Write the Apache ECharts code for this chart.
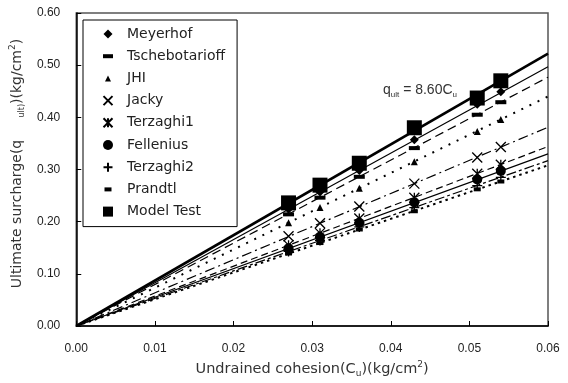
<!DOCTYPE html>
<html>
<head>
<meta charset="utf-8">
<script src="https://cdn.jsdelivr.net/npm/echarts@6/dist/echarts.min.js"></script>
<style>
  html, body { margin: 0; padding: 0; background: #fff; }
  #chart { width: 568px; height: 383px; }
</style>
</head>
<body>
<div id="chart"></div>
<script>
// undrained cohesion Cu (kg/cm2) of the test points
var cohesion = [0.027, 0.031, 0.036, 0.043, 0.051, 0.054];

// ultimate surcharge (kg/cm2)
var modelTest      = [0.236, 0.270, 0.312, 0.380, 0.437, 0.470];
var meyerhof       = [0.224, 0.257, 0.298, 0.357, 0.425, 0.449];
var tschebotarioff = [0.214, 0.246, 0.286, 0.341, 0.405, 0.429];
var jhi            = [0.198, 0.227, 0.264, 0.315, 0.373, 0.396];
var jacky          = [0.172, 0.197, 0.229, 0.273, 0.323, 0.343];
var terzaghi1      = [0.155, 0.178, 0.206, 0.246, 0.292, 0.309];
var fellenius      = [0.149, 0.171, 0.198, 0.237, 0.281, 0.297];
var terzaghi2      = [0.143, 0.164, 0.190, 0.227, 0.269, 0.285];
var prandtl        = [0.139, 0.159, 0.185, 0.220, 0.262, 0.277];

// straight lines through the origin, value at the right edge (Cu = 0.06)
var lineX = [0, 0.06];
var modelLine          = [0, 0.522];
var meyerhofLine       = [0, 0.497];
var tschebotarioffLine = [0, 0.477];
var jhiLine            = [0, 0.440];
var jackyLine          = [0, 0.381];
var terzaghi1Line      = [0, 0.344];
var felleniusLine      = [0, 0.330];
var terzaghi2Line      = [0, 0.317];
var prandtlLine        = [0, 0.308];

var xTicks = ['0.00', '0.01', '0.02', '0.03', '0.04', '0.05', '0.06'];
var yTicks = ['0.00', '0.10', '0.20', '0.30', '0.40', '0.50', '0.60'];

var chart = echarts.init(document.getElementById('chart'));

function pts(xs, ys) {
  var out = [];
  for (var i = 0; i < xs.length; i++) out.push([xs[i], ys[i]]);
  return out;
}

function fitLine(name, ys, width, dash) {
  return {
    name: name + ' line',
    type: 'line',
    data: pts(lineX, ys),
    showSymbol: false,
    silent: true,
    z: 2,
    lineStyle: { color: '#000', width: width, type: dash }
  };
}

function marks(name, ys, symbol, size, stroke) {
  var s = {
    name: name,
    type: 'scatter',
    data: pts(cohesion, ys),
    symbol: symbol,
    symbolSize: size,
    z: 5,
    itemStyle: { color: '#000', opacity: 1 }
  };
  if (stroke) {
    s.itemStyle = { color: 'rgba(0,0,0,0)', borderColor: '#000', borderWidth: 1.3, opacity: 1 };
  }
  return s;
}

var crossPath = 'path://M0,0L10,10M10,0L0,10';
var starPath = 'path://M0,0L10,10M10,0L0,10M5,0L5,10';
var plusPath = 'path://M5,0L5,10M0,5L10,5';

// legend icons, drawn inside a 16x10 box (the two moves set the box)
var box = 'path://M0,0M16,10';
var legendItems = [
  { name: 'Meyerhof',       icon: box + 'M8,0.5L12.5,5L8,9.5L3.5,5Z' },
  { name: 'Tschebotarioff', icon: box + 'M3,3h10v4h-10z' },
  { name: 'JHI',            icon: box + 'M8,2L11,8L5,8Z' },
  { name: 'Jacky',          icon: box + 'M3.5,0.5L12.5,9.5M12.5,0.5L3.5,9.5' },
  { name: 'Terzaghi1',      icon: box + 'M3.5,0.5L12.5,9.5M12.5,0.5L3.5,9.5M8,0.5L8,9.5' },
  { name: 'Fellenius',      icon: 'circle' },
  { name: 'Terzaghi2',      icon: box + 'M8,0.5L8,9.5M3.5,5L12.5,5' },
  { name: 'Prandtl',        icon: box + 'M4.5,3h7v4h-7z' },
  { name: 'Model Test',     icon: box + 'M3,0h10v10h-10z' }
];

chart.setOption({
  animation: false,
  backgroundColor: '#fff',
  grid: {
    left: 75, right: 20, top: 13, bottom: 54,
    show: true,
    borderColor: '#555',
    borderWidth: 1.5
  },
  legend: {
    data: legendItems,
    orient: 'vertical',
    left: 83,
    top: 20,
    padding: [7, 12, 8, 16],
    itemGap: 8.2,
    itemWidth: 16,
    itemHeight: 10,
    borderColor: '#000',
    borderWidth: 1,
    backgroundColor: '#fff',
    selectedMode: false,
    textStyle: {
      fontFamily: 'DejaVu Sans',
      fontSize: 14,
      lineHeight: 14,
      color: '#222',
      padding: [0, 0, 0, 6]
    }
  },
  xAxis: {
    type: 'value',
    min: 0,
    max: 0.06,
    interval: 0.01,
    nameLocation: 'middle',
    nameGap: 34,
    name: '{t|Undrained cohesion(C}{s|u}{t|)(kg/cm}{p|2}{t|)}',
    nameTextStyle: {
      rich: {
        t: { fontFamily: 'DejaVu Sans', fontSize: 14.5, color: '#333', lineHeight: 18 },
        s: { fontFamily: 'DejaVu Sans', fontSize: 9, color: '#333', lineHeight: 14, verticalAlign: 'bottom' },
        p: { fontFamily: 'DejaVu Sans', fontSize: 9, color: '#333', lineHeight: 18, verticalAlign: 'top' }
      }
    },
    axisLine: { lineStyle: { color: '#000', width: 1.5 } },
    axisTick: { inside: true, length: 5, lineStyle: { color: '#000' } },
    splitLine: { show: false },
    axisLabel: {
      margin: 17,
      fontFamily: 'Liberation Sans',
      fontSize: 12,
      color: '#222',
      formatter: function (v) { return xTicks[Math.round(v * 100)]; }
    }
  },
  yAxis: {
    type: 'value',
    min: 0,
    max: 0.6,
    interval: 0.1,
    nameLocation: 'middle',
    nameGap: 38,
    nameRotate: 90,
    name: '{t|Ultimate surcharge(q     }{s|ult)}{t|)(kg/cm}{p|2}{t|)}',
    nameTextStyle: {
      padding: [0, 0, 0, 12],
      rich: {
        t: { fontFamily: 'DejaVu Sans', fontSize: 14, color: '#333', lineHeight: 18 },
        s: { fontFamily: 'DejaVu Sans', fontSize: 8, color: '#333', lineHeight: 18, verticalAlign: 'bottom' },
        p: { fontFamily: 'DejaVu Sans', fontSize: 9, color: '#333', lineHeight: 18, verticalAlign: 'top' }
      }
    },
    axisLine: { show: true, lineStyle: { color: '#000', width: 1.5 } },
    axisTick: { show: true, inside: true, length: 5, lineStyle: { color: '#000' } },
    splitLine: { show: false },
    axisLabel: {
      margin: 16,
      fontFamily: 'Liberation Sans',
      fontSize: 12,
      color: '#222',
      formatter: function (v) { return yTicks[Math.round(v * 10)]; }
    }
  },
  graphic: [
    {
      type: 'text',
      left: 383,
      top: 83,
      style: {
        text: '{t|q}{s|ult}{t| = 8.60C}{s|u}',
        rich: {
          t: { fontFamily: 'Liberation Sans', fontSize: 14, fill: '#333', lineHeight: 17 },
          s: { fontFamily: 'Liberation Sans', fontSize: 8, fill: '#333', lineHeight: 12, verticalAlign: 'bottom' }
        }
      }
    }
  ],
  series: [
    fitLine('Model Test', modelLine, 2.6, 'solid'),
    fitLine('Meyerhof', meyerhofLine, 1.2, 'solid'),
    fitLine('Tschebotarioff', tschebotarioffLine, 1.2, [9, 5]),
    fitLine('JHI', jhiLine, 2, [2, 7]),
    fitLine('Jacky', jackyLine, 1.2, [10, 4, 2, 4]),
    fitLine('Terzaghi1', terzaghi1Line, 1.2, [7, 4]),
    fitLine('Fellenius', felleniusLine, 1.2, 'solid'),
    fitLine('Terzaghi2', terzaghi2Line, 1.2, [10, 3, 3, 3]),
    fitLine('Prandtl', prandtlLine, 2, [2.5, 4]),
    marks('Meyerhof', meyerhof, 'diamond', 9),
    marks('Tschebotarioff', tschebotarioff, 'rect', [11, 4]),
    marks('JHI', jhi, 'triangle', 7),
    marks('Jacky', jacky, crossPath, 10, true),
    marks('Terzaghi1', terzaghi1, starPath, 10, true),
    marks('Fellenius', fellenius, 'circle', 10),
    marks('Terzaghi2', terzaghi2, plusPath, 10, true),
    marks('Prandtl', prandtl, 'rect', [7, 4]),
    marks('Model Test', modelTest, 'rect', 15)
  ]
});
</script>
</body>
</html>
